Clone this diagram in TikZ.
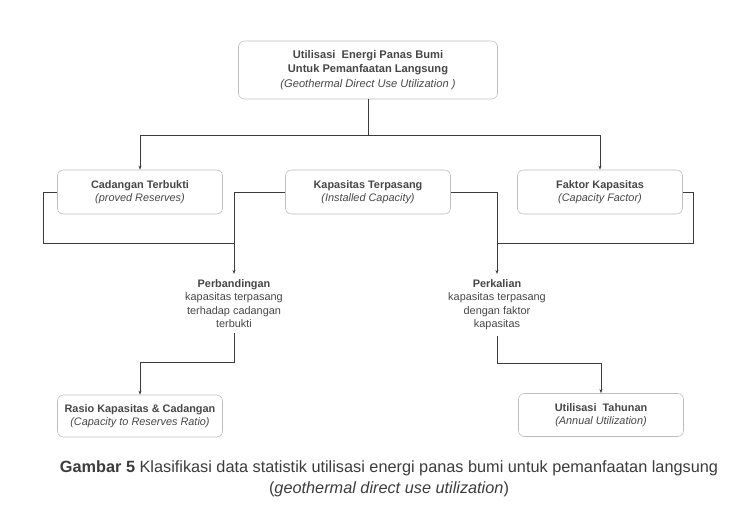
\documentclass[tikz,border=0pt]{standalone}
\usepackage{fontspec}
\setmainfont{Liberation Sans}
\usepackage{xcolor}
\usepackage{tikz}
\usetikzlibrary{arrows.meta}
\definecolor{txtgray}{HTML}{464646}
\definecolor{linegray}{HTML}{3C3C3C}
\definecolor{boxgray}{HTML}{BDBDBD}

\begin{document}
\begin{tikzpicture}[x=0.03cm, y=-0.03cm,
    box/.style={draw=boxgray, line width=0.5pt, rounded corners=5pt, align=center,
      minimum width=4.95cm, minimum height=1.32cm, text=txtgray,
      font=\fontsize{9.3}{11.5}\selectfont},
    note/.style={align=center, text=txtgray, inner xsep=2pt, inner ysep=4.5pt,
      font=\fontsize{9.3}{11.5}\selectfont},
    link/.style={draw=linegray, line width=0.6pt},
    >={Stealth[length=3.5pt,width=2.6pt]}]
    \useasboundingbox (0,0) rectangle (750,529);
    \node[box, minimum width=7.77cm, minimum height=1.74cm, font=\fontsize{9.5}{12.3}\selectfont] (utilisasi) at (368,70)
      {\textbf{Utilisasi\ \ Energi Panas Bumi}\\ \textbf{Untuk Pemanfaatan Langsung}\\ \textit{(Geothermal Direct Use Utilization )}};
    \node[box] (cadangan) at (140,192) {\textbf{Cadangan Terbukti}\\ \textit{(proved Reserves)}};
    \node[box] (kapasitas) at (368,192) {\textbf{Kapasitas Terpasang}\\ \textit{(Installed Capacity)}};
    \node[box] (faktor) at (600,192) {\textbf{Faktor Kapasitas}\\ \textit{(Capacity Factor)}};
    \node[note, anchor=north] (perbandingan) at (234,274)
      {\textbf{Perbandingan}\\ kapasitas terpasang\\ terhadap cadangan\\ terbukti};
    \node[note, anchor=north] (perkalian) at (497,274)
      {\textbf{Perkalian}\\ kapasitas terpasang\\ dengan faktor\\ kapasitas};
    \node[box, minimum height=1.26cm] (rasio) at (140,416) {\textbf{Rasio Kapasitas \& Cadangan}\\ \textit{(Capacity to Reserves Ratio)}};
    \node[box, minimum height=1.29cm] (tahunan) at (601,415) {\textbf{Utilisasi\ \ Tahunan}\\ \textit{(Annual Utilization)}};
    \node[align=center, text=linegray, font=\fontsize{13.9}{17.5}\selectfont] (gambar) at (389,479)
      {\textbf{Gambar 5} Klasifikasi data statistik utilisasi energi panas bumi untuk pemanfaatan langsung\\ (\textit{geothermal direct use utilization})};
    % top split
    \coordinate (split) at (368,135);
    \draw[link] (utilisasi.south) -- (split);
    \draw[link, ->] (split) -| (cadangan.north);
    \draw[link, ->] (split) -| (faktor.north);
    % left branch
    \coordinate (jkiri) at (234,243);
    \draw[link] (cadangan.west) -- ++(-14,0) |- (jkiri);
    \draw[link] (kapasitas.west) -| (jkiri);
    \draw[link, ->] (jkiri) -- (perbandingan.north);
    \draw[link, ->] (perbandingan.south) -- ++(0,29) -| (rasio.north);
    % right branch
    \coordinate (jkanan) at (497,243);
    \draw[link] (kapasitas.east) -| (jkanan);
    \draw[link] (faktor.east) -- ++(11,0) |- (jkanan);
    \draw[link, ->] (jkanan) -- (perkalian.north);
    \draw[link, ->] (perkalian.south) -- ++(0,28) -| (tahunan.north);
\end{tikzpicture}
\end{document}
